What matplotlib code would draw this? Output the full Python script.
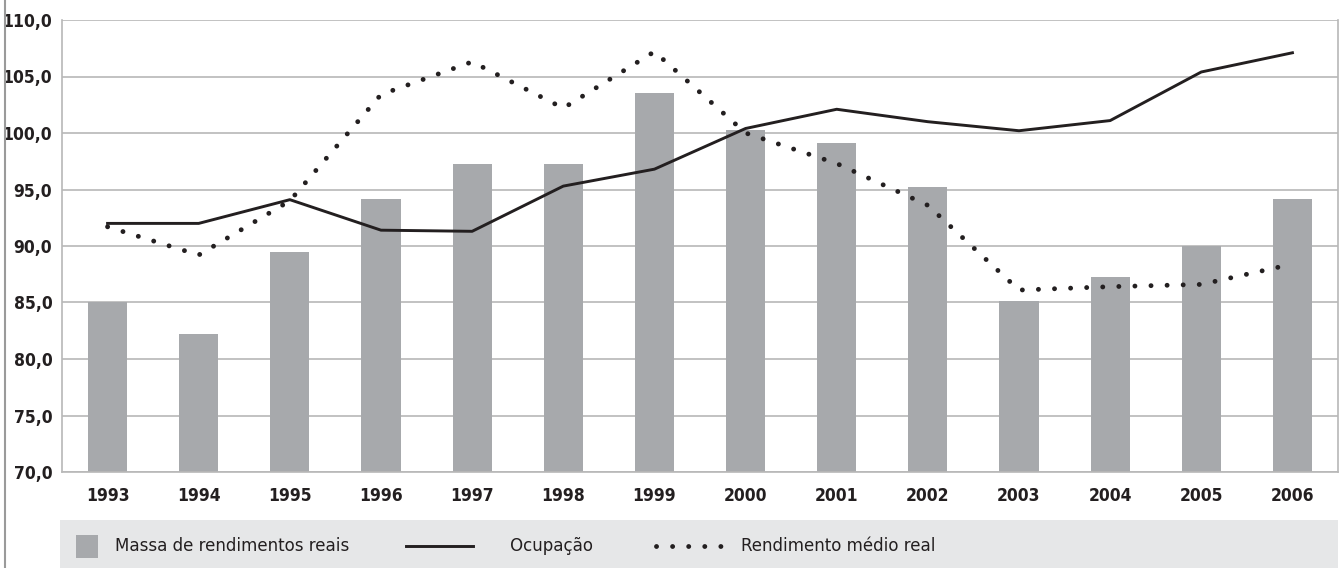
import matplotlib
matplotlib.use("Agg")
import matplotlib.pyplot as plt
from matplotlib import font_manager
from matplotlib.patches import Rectangle
from matplotlib.lines import Line2D
from matplotlib.ticker import FuncFormatter

names = set(f.name for f in font_manager.fontManager.ttflist)
if 'Liberation Sans Narrow' in names:
    FAM = ['Liberation Sans Narrow', 'DejaVu Sans']
    STRETCH = 'normal'
else:
    FAM = ['DejaVu Sans']
    STRETCH = 'condensed'
plt.rcParams['font.family'] = FAM
plt.rcParams['font.stretch'] = STRETCH

anos = ['1993', '1994', '1995', '1996', '1997', '1998', '1999',
        '2000', '2001', '2002', '2003', '2004', '2005', '2006']
massa = [85.0, 82.2, 89.5, 94.2, 97.3, 97.3, 103.5,
         100.3, 99.1, 95.2, 85.1, 87.3, 90.0, 94.2]
ocupacao = [92.0, 92.0, 94.1, 91.4, 91.3, 95.3, 96.8,
            100.4, 102.1, 101.0, 100.2, 101.1, 105.4, 107.1]
rendimento = [91.7, 89.2, 94.0, 103.4, 106.3, 102.2, 107.2,
              100.0, 97.3, 93.6, 86.1, 86.4, 86.6, 88.4]

W, H = 1341, 568
fig = plt.figure(figsize=(W / 100, H / 100), dpi=100)
ax = fig.add_axes([62 / W, 1 - 472 / H, (1338 - 62) / W, (472 - 20) / H])

bar_col = '#a7a9ac'
grid_col = '#b8b8b8'
txt_col = '#231f20'
dots = (0, (0.01, 3.3))
x = list(range(len(anos)))

ax.bar(x, massa, width=0.43, color=bar_col, zorder=2)
ax.plot(x, ocupacao, color=txt_col, lw=2.1, zorder=3)
ax.plot(x, rendimento, color=txt_col, lw=3.5, linestyle=dots,
        dash_capstyle='round', zorder=3)

ax.set_xlim(-0.5, len(anos) - 0.5)
ax.set_ylim(70, 110)
ax.set_yticks(range(70, 111, 5))
ax.yaxis.set_major_formatter(FuncFormatter(lambda v, p: ('%.1f' % v).replace('.', ',')))
ax.set_xticks(x)
ax.set_xticklabels(anos)
ax.grid(axis='y', color=grid_col, lw=1.2, zorder=0)
ax.set_axisbelow(True)
ax.tick_params(length=0)
ax.tick_params(axis='y', pad=7)
ax.tick_params(axis='x', pad=11)
tick_size = 14 if STRETCH == 'normal' else 12.5
for lab in ax.get_xticklabels() + ax.get_yticklabels():
    lab.set_fontsize(tick_size)
    lab.set_fontweight('bold')
    lab.set_color(txt_col)
ax.spines['top'].set_visible(False)
for s in ['left', 'right', 'bottom']:
    ax.spines[s].set_color(grid_col)
    ax.spines[s].set_linewidth(1.2)

# left frame line
fig.lines.append(Line2D([5 / W, 5 / W], [0, 1], transform=fig.transFigure,
                        color='#9a9a9a', lw=1.5))

# legend box
leg_size = 14 if STRETCH == 'normal' else 13.3
fig.patches.append(Rectangle((60 / W, 0), (1338 - 60) / W, (568 - 520) / H,
                             transform=fig.transFigure, facecolor='#e6e7e8',
                             edgecolor='none', zorder=0))
ly = 1 - 546 / H
fig.patches.append(Rectangle((76 / W, 1 - 558 / H), 22 / W, 23 / H,
                             transform=fig.transFigure, facecolor=bar_col,
                             edgecolor='none', zorder=1))
fig.text(115 / W, ly, 'Massa de rendimentos reais', fontsize=leg_size,
         va='center', ha='left', color=txt_col)
fig.lines.append(Line2D([406 / W, 473 / W], [ly, ly], transform=fig.transFigure,
                        color=txt_col, lw=2.1))
fig.text(510 / W, ly, 'Ocupação', fontsize=leg_size, va='center', ha='left', color=txt_col)
fig.lines.append(Line2D([656 / W, 726 / W], [ly, ly], transform=fig.transFigure,
                        color=txt_col, lw=3.5, linestyle=dots,
                        dash_capstyle='round'))
fig.text(741 / W, ly, 'Rendimento médio real', fontsize=leg_size, va='center',
         ha='left', color=txt_col)

fig.savefig('out.png', dpi=100)
